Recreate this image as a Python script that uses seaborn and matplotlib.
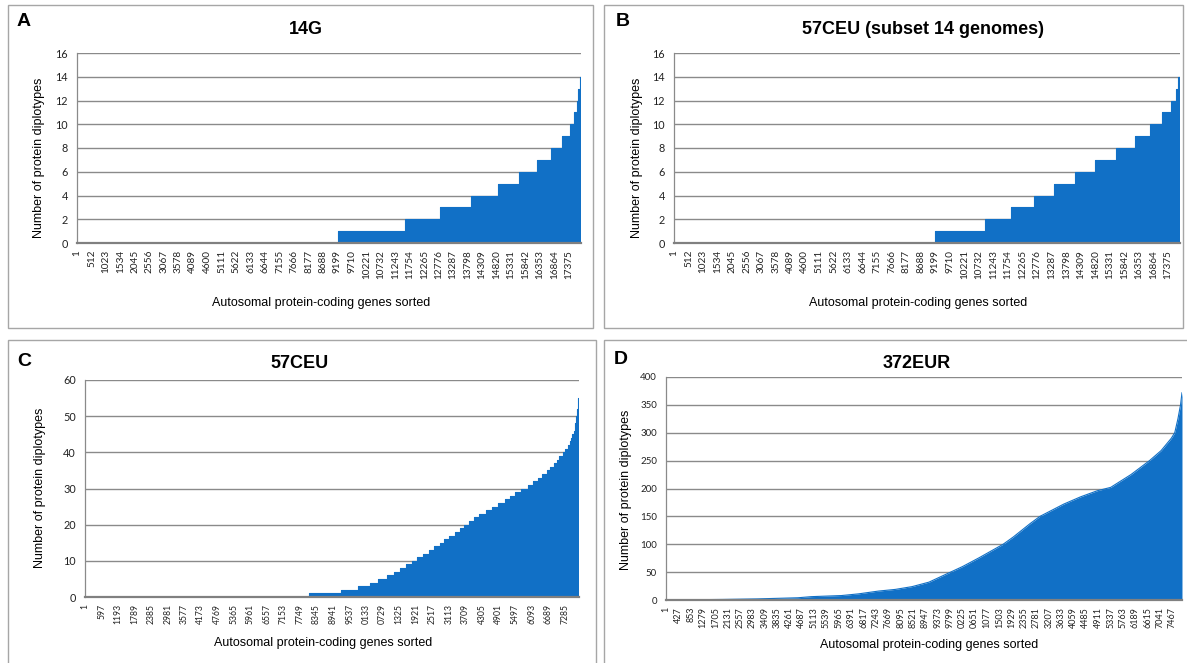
import numpy as np
import matplotlib
matplotlib.use("Agg")
import matplotlib.pyplot as plt
import seaborn as sns
from matplotlib.patches import Rectangle

sns.set_theme(style="white")
plt.rcParams["font.family"] = ["Liberation Sans", "DejaVu Sans"]

W, H = 1187, 663
N_GENES = 17800
BLUE = "#1170c6"
GRID = "#8a8a8a"
TICK_FONT = ["Lato", "DejaVu Sans"]

# 14G: number of diplotypes, and the first sorted gene reaching that number
a_counts = list(range(15))
a_first_gene = [1, 9224, 11570, 12837, 13916, 14860, 15600, 16235, 16740,
                17140, 17395, 17570, 17650, 17700, 17760]

# 57CEU, subset of 14 genomes
b_counts = list(range(15))
b_first_gene = [1, 9170, 10950, 11870, 12650, 13385, 14110, 14820, 15560,
                16220, 16730, 17155, 17470, 17650, 17730]

# 57CEU
c_counts = list(range(47)) + [48, 50, 52, 55]
c_first_gene = [1, 8085, 9215, 9845, 10280, 10570, 10900, 11120, 11355, 11565,
                11780, 11975, 12170, 12390, 12570, 12780, 12945, 13110, 13315,
                13495, 13650, 13840, 14020, 14210, 14460, 14670, 14880, 15120,
                15330, 15510, 15705, 15950, 16145, 16320, 16475, 16630, 16765,
                16900, 17000, 17090, 17210, 17300, 17405, 17470, 17525, 17560,
                17605, 17660, 17705, 17745, 17780]

# 372EUR: sorted gene rank and number of diplotypes
d_gene = [1, 1940, 3160, 4550, 5010, 6060, 6640, 7330, 7910, 8490, 9070, 9650,
          10230, 10810, 11630, 11980, 12560, 12900, 13720, 14300, 14880, 15340,
          16040, 16680, 17080, 17430, 17550, 17660, 17750, 17800]
d_value = [0, 1, 2, 4, 6, 8, 11, 16, 19, 24, 32, 46, 60, 76, 100, 113, 137, 150,
           172, 185, 196, 202, 225, 250, 268, 290, 300, 325, 350, 372]

panels = [
    dict(letter="A", title="14G", rect=(77, 53, 581, 243), ymax=16, ystep=2,
         tick_step=511, tick_size=7.2, ytick_size=7.8, short=False,
         title_xy=(306, 29), letter_xy=(24, 22), ylab_xy=(39, 158), xlab_xy=(321, 303),
         box=(8, 5, 593, 328)),
    dict(letter="B", title="57CEU (subset 14 genomes)", rect=(674, 53, 1180, 243),
         ymax=16, ystep=2, tick_step=511, tick_size=7.2, ytick_size=7.8, short=False,
         title_xy=(923, 29), letter_xy=(623, 22), ylab_xy=(637, 158), xlab_xy=(918, 303),
         box=(604, 5, 1183, 328)),
    dict(letter="C", title="57CEU", rect=(85, 380, 579, 597), ymax=60, ystep=10,
         tick_step=596, tick_size=6.2, ytick_size=7.8, short=True,
         title_xy=(300, 363), letter_xy=(24, 362), ylab_xy=(40, 488), xlab_xy=(323, 643),
         box=(8, 340, 596, 680)),
    dict(letter="D", title="372EUR", rect=(666, 377, 1182, 600), ymax=400, ystep=50,
         tick_step=426, tick_size=6.5, ytick_size=7.0, short=True,
         title_xy=(917, 363), letter_xy=(621, 359), ylab_xy=(626, 490), xlab_xy=(929, 645),
         box=(604, 340, 1200, 680)),
]

fig = plt.figure(figsize=(W / 100, H / 100), dpi=100)
fig.patch.set_facecolor("white")


def fx(x):
    return x / W


def fy(y):
    return 1 - y / H


def draw_steps(ax, first_gene, counts):
    xs = np.array(first_gene + [N_GENES + 1], dtype=float)
    ys = np.array(counts + [counts[-1]], dtype=float)
    sns.lineplot(x=xs, y=ys, ax=ax, drawstyle="steps-post", estimator=None,
                 color=BLUE, lw=0.8, zorder=3)
    ax.fill_between(xs, ys, step="post", color=BLUE, lw=0, zorder=3)


def draw_curve(ax, genes, values):
    sns.lineplot(x=genes, y=values, ax=ax, estimator=None, color=BLUE, lw=0.8, zorder=3)
    ax.fill_between(genes, values, color=BLUE, lw=0, zorder=3)


for i, p in enumerate(panels):
    bx0, by0, bx1, by1 = p["box"]
    fig.add_artist(Rectangle((fx(bx0), fy(by1)), fx(bx1 - bx0), (by1 - by0) / H,
                             transform=fig.transFigure, fill=False,
                             edgecolor="#a6a6a6", lw=1.0))

    x0, y0, x1, y1 = p["rect"]
    ax = fig.add_axes([fx(x0), fy(y1), fx(x1 - x0), (y1 - y0) / H])
    ax.set_facecolor("white")

    if i == 0:
        draw_steps(ax, a_first_gene, a_counts)
    elif i == 1:
        draw_steps(ax, b_first_gene, b_counts)
    elif i == 2:
        draw_steps(ax, c_first_gene, c_counts)
    else:
        draw_curve(ax, d_gene, d_value)

    ax.set_xlim(0.5, N_GENES + 0.5)
    ax.set_ylim(0, p["ymax"])
    ax.set_yticks(np.arange(0, p["ymax"] + 1, p["ystep"]))
    ax.grid(axis="y", color=GRID, lw=1.0, zorder=0)
    ax.grid(axis="x", visible=False)
    ax.set_axisbelow(True)

    ticks = np.arange(1, N_GENES, p["tick_step"])
    labels = [str(t)[-4:] if p["short"] else str(t) for t in ticks]
    ax.set_xticks(ticks)
    ax.set_xticklabels(labels, rotation=90, fontsize=p["tick_size"],
                       family=TICK_FONT, color="#222222")
    for lab in ax.get_yticklabels():
        lab.set_fontsize(p["ytick_size"])
        lab.set_family(TICK_FONT)
        lab.set_color("#222222")
    ax.tick_params(axis="x", length=0, pad=5)
    ax.tick_params(axis="y", length=3.5, width=0.8, color="#8a8a8a", pad=3, direction="out")

    for side in ("top", "right"):
        ax.spines[side].set_visible(False)
    ax.spines["left"].set_color("#8a8a8a")
    ax.spines["left"].set_linewidth(0.9)
    ax.spines["bottom"].set_color("#808080")
    ax.spines["bottom"].set_linewidth(1.6)
    ax.spines["bottom"].set_zorder(4)
    ax.set_xlabel("")
    ax.set_ylabel("")

    fig.text(fx(p["letter_xy"][0]), fy(p["letter_xy"][1]), p["letter"],
             ha="center", va="center", fontsize=14, fontweight="bold", color="black")
    fig.text(fx(p["title_xy"][0]), fy(p["title_xy"][1]), p["title"],
             ha="center", va="center", fontsize=13, fontweight="bold", color="black")
    fig.text(fx(p["ylab_xy"][0]), fy(p["ylab_xy"][1]), "Number of protein diplotypes",
             ha="center", va="center", rotation=90, fontsize=9, color="black")
    fig.text(fx(p["xlab_xy"][0]), fy(p["xlab_xy"][1]), "Autosomal protein-coding genes sorted",
             ha="center", va="center", fontsize=9, color="black")

fig.savefig("out.png", dpi=100)
